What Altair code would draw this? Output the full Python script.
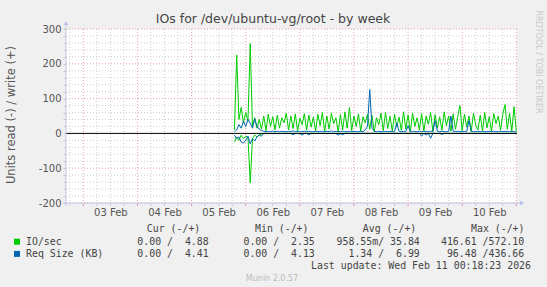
import altair as alt
import pandas as pd

# ---------------- texts ----------------
TITLE = "IOs for /dev/ubuntu-vg/root - by week"
Y_TITLE = "Units read (-) / write (+)"
SIDE_TEXT = "RRDTOOL / TOBI OETIKER"
FOOTER = "Munin 2.0.57"
LAST_UPDATE = "Last update: Wed Feb 11 00:18:23 2026"

DAY_LABELS = ["03 Feb", "04 Feb", "05 Feb", "06 Feb", "07 Feb", "08 Feb", "09 Feb", "10 Feb"]
DAY_LABEL_HOURS = [36, 60, 84, 108, 132, 156, 180, 204]  # noon of each day, hours since 02 Feb 00:00
Y_LABELS = [-200, -100, 0, 100, 200, 300]

X_START = 16.306   # 02 Feb 16:18:23
X_END = 216.306    # 11 Feb 00:18:23
SERIES_START = 91  # 05 Feb 19:00, hourly samples

# ---------------- series (hourly) ----------------
IO_WRITE = [
    10, 225, 40, 75, 30, 60, 35, 258, 20, 45, 15, 40,
    12, 50, 8, 55, 20, 48, 10, 52, 15, 45, 30, 58,
    10, 50, 14, 56, 6, 44, 25, 57, 9, 53, 18, 47,
    7, 55, 22, 60, 5, 50, 12, 58, 28, 45, 4, 54,
    10, 62, 15, 74, 8, 50, 20, 56, 6, 48, 30, 55,
    12, 52, 5, 45, 25, 58, 8, 60, 14, 50, 6, 55,
    18, 47, 9, 62, 12, 53, 4, 58, 20, 45, 10, 57,
    7, 50, 26, 60, 5, 54, 15, 48, 9, 62, 22, 50,
    6, 56, 12, 47, 80, 8, 55, 18, 50, 5, 58, 24,
    10, 52, 7, 60, 16, 48, 6, 57, 28, 50, 9, 55,
    83, 12, 58, 6, 77, 5,
]
IO_READ = [
    25, 10, 20, 5, 15, 8, 10, 142, 15, 5, 10, 3,
    2, 0, 0, 1, 0, 0, 0, 0, 1, 0, 0, 0,
    0, 0, 0, 0, 0, 1, 0, 0, 0, 0, 0, 0,
    0, 0, 0, 0, 0, 0, 0, 0, 0, 0, 0, 0,
    0, 0, 0, 0, 0, 0, 0, 0, 0, 0, 0, 0,
    0, 0, 0, 0, 0, 0, 0, 0, 0, 0, 0, 0,
    0, 0, 0, 0, 0, 0, 0, 0, 0, 0, 0, 0,
    0, 0, 0, 0, 0, 0, 0, 0, 0, 0, 0, 0,
    0, 0, 0, 0, 0, 0, 0, 0, 0, 0, 0, 0,
    0, 0, 0, 0, 0, 0, 0, 0, 0, 0, 0, 0,
    0, 0, 0, 0, 0, 0,
]
REQ_WRITE = [
    5, 10, 25, 15, 35, 20, 40, 30, 15, 42, 20, 12,
    8, 6, 5, 6, 5, 7, 5, 6, 5, 6, 5, 5,
    6, 5, 7, 5, 6, 5, 5, 6, 5, 6, 5, 5,
    6, 5, 6, 5, 5, 6, 5, 7, 5, 6, 5, 5,
    6, 5, 5, 6, 5, 6, 5, 5, 6, 5, 10, 20,
    126, 15, 6, 5, 6, 5, 5, 6, 5, 6, 5, 5,
    30, 6, 5, 6, 5, 22, 5, 6, 5, 5, 6, 5,
    6, 5, 5, 6, 5, 37, 6, 5, 6, 5, 5, 6,
    50, 6, 5, 6, 5, 5, 6, 5, 37, 6, 5, 5,
    6, 5, 6, 5, 5, 6, 5, 6, 5, 5, 6, 5,
    6, 5, 6, 5, 5, 4,
]
REQ_READ = [
    5, 15, 10, 25, 28, 20, 8, 30, 15, 22, 10, 5,
    8, 0, 0, 0, 0, 0, 0, 0, 0, 0, 0, 0,
    0, 0, 4, 0, 0, 0, 5, 0, 0, 4, 0, 0,
    0, 0, 0, 0, 0, 0, 0, 0, 0, 0, 5, 0,
    4, 0, 0, 0, 0, 0, 0, 0, 0, 0, 0, 0,
    0, 0, 0, 0, 0, 0, 0, 0, 0, 0, 0, 0,
    0, 0, 0, 0, 0, 0, 0, 0, 0, 0, 0, 8,
    0, 5, 0, 14, 0, 0, 0, 0, 3, 0, 0, 0,
    0, 0, 0, 0, 0, 0, 0, 0, 0, 0, 0, 0,
    0, 0, 0, 0, 0, 0, 0, 0, 0, 0, 0, 0,
    0, 0, 0, 0, 0, 0,
]

# ---------------- legend ----------------
LEGEND_NAMES = ["IO/sec", "Req Size (KB)"]
LEGEND_COLORS = ["#00cc00", "#0066b3"]
LEGEND_HEADERS = ["Cur (-/+)", "Min (-/+)", "Avg (-/+)", "Max (-/+)"]
IO_STATS = ["0.00 /  4.88", "0.00 /  2.35", "958.55m/ 35.84", "416.61 /572.10"]
REQ_STATS = ["0.00 /  4.41", "0.00 /  4.13", "1.34 /  6.99", "96.48 /436.66"]

GREEN, BLUE = LEGEND_COLORS
W, H = 451, 174
SANS = "DejaVu Sans"
MONO = "DejaVu Sans Mono"
NBSP = "\u00a0"

rows = []
for name, vals, sign in [("io_r", IO_READ, -1), ("io_w", IO_WRITE, 1),
                         ("req_r", REQ_READ, -1), ("req_w", REQ_WRITE, 1)]:
    for i, v in enumerate(vals):
        rows.append({"h": SERIES_START + i, "v": sign * v, "s": name})
df = pd.DataFrame(rows)

xs = alt.Scale(domain=[X_START, X_END], nice=False, zero=False)
ys = alt.Scale(domain=[-200, 300], nice=False, zero=False)

label_arr = "[" + ",".join("'%s'" % s for s in DAY_LABELS) + "]"
x_axis = alt.Axis(values=DAY_LABEL_HOURS,
                  labelExpr=label_arr + "[round((datum.value-36)/24)]",
                  ticks=False, domain=False, grid=False, labelFont=SANS,
                  labelFontSize=10, labelColor="#555555", labelPadding=4,
                  title=None, labelOverlap=False, labelFlush=False)
y_axis = alt.Axis(values=list(range(-200, 301, 20)),
                  labelExpr="datum.value % 100 == 0 ? '' + datum.value : ''",
                  ticks=True, tickSize=3, tickColor="#c8c8c8", domain=False,
                  grid=False, labelFont=SANS, labelFontSize=10,
                  labelColor="#555555", labelPadding=2, title=None,
                  labelOverlap=False)
X = alt.X("h:Q", scale=xs, axis=x_axis)
Y = alt.Y("v:Q", scale=ys, axis=y_axis)

major_h = [v for v in range(-200, 301, 100) if v != 0]
minor_h = [v for v in range(-180, 300, 20) if v % 100 != 0]
major_v = list(range(24, 217, 24))
minor_v = [v for v in range(18, 216, 6) if v % 24 != 0]

def hrules(vals, color):
    return alt.Chart(pd.DataFrame({"v": vals})).mark_rule(
        color=color, strokeDash=[1, 2], strokeWidth=1).encode(
        y=Y, x=alt.value(0), x2=alt.value(W))

def vrules(vals, color):
    return alt.Chart(pd.DataFrame({"h": vals})).mark_rule(
        color=color, strokeDash=[1, 2], strokeWidth=1).encode(
        x=X, y=alt.value(0), y2=alt.value(H))

def vticks(vals, color):
    return alt.Chart(pd.DataFrame({"h": vals})).mark_rule(
        color=color, strokeWidth=1).encode(
        x=X, y=alt.value(H), y2=alt.value(H + 3))

GRID_MINOR = "#cfcfcf"
GRID_MAJOR = "#e8a0a0"

layers = [
    hrules(minor_h, GRID_MINOR),
    vrules(minor_v, GRID_MINOR),
    hrules(major_h, GRID_MAJOR),
    vrules(major_v, GRID_MAJOR),
    vticks(minor_v, "#cccccc"),
    vticks(major_v, "#e59a9a"),
]

lines_green = alt.Chart(df).transform_filter(
    alt.FieldOneOfPredicate(field="s", oneOf=["io_r", "io_w"])
).mark_line(color=GREEN, strokeWidth=1).encode(x=X, y=Y, detail="s:N")
lines_blue = alt.Chart(df).transform_filter(
    alt.FieldOneOfPredicate(field="s", oneOf=["req_r", "req_w"])
).mark_line(color=BLUE, strokeWidth=1).encode(x=X, y=Y, detail="s:N")
layers += [lines_green, lines_blue]

zero = alt.Chart(pd.DataFrame({"v": [0]})).mark_rule(color="#000000", strokeWidth=1).encode(
    y=Y, x=alt.value(0), x2=alt.value(W))
layers.append(zero)

DUMMY = pd.DataFrame({"a": [0]})
AXIS_COL = "#c4c8e6"
layers.append(alt.Chart(DUMMY).mark_rule(color=AXIS_COL, strokeWidth=1).encode(
    x=alt.value(0), y=alt.value(-5), y2=alt.value(H + 3)))
layers.append(alt.Chart(DUMMY).mark_rule(color=AXIS_COL, strokeWidth=1).encode(
    x=alt.value(-3), x2=alt.value(W + 3), y=alt.value(H)))
layers.append(alt.Chart(DUMMY).mark_point(shape="triangle-up", filled=True, size=22,
                                          color="#b8c0ea", opacity=1).encode(
    x=alt.value(0), y=alt.value(-6)))
layers.append(alt.Chart(DUMMY).mark_point(shape="triangle-right", filled=True, size=22,
                                          color="#b8c0ea", opacity=1).encode(
    x=alt.value(W + 5), y=alt.value(H)))


def txt(text, x, y, size, color, font, align="left", angle=0):
    props = dict(align=align, baseline="middle", font=font, fontSize=size, color=color)
    if angle:
        props["angle"] = angle
    if font == MONO:
        text = text.replace(" ", NBSP)
    return alt.Chart(DUMMY).mark_text(**props).encode(
        x=alt.value(x), y=alt.value(y), text=alt.value(text))

layers.append(txt(TITLE, 207, -10, 12.5, "#444444", SANS, "center"))
layers.append(txt(Y_TITLE, -54, 86, 11.5, "#555555", SANS, "center", 270))
layers.append(txt(SIDE_TEXT, 472, 33, 8, "#c8c8c8", SANS, "center", 90))

# legend
header_x = [80.8, 189, 296.8, 405]
for hx, htxt in zip(header_x, LEGEND_HEADERS):
    layers.append(txt(htxt, hx, 200, 9.9, "#444444", MONO, "left"))

value_right = [142.7, 248.8, 353.8, 458.2]
row_y = [212.7, 224.9]
for ry, name, col, stats in zip(row_y, LEGEND_NAMES, LEGEND_COLORS, [IO_STATS, REQ_STATS]):
    layers.append(alt.Chart(DUMMY).mark_rect(color=col).encode(
        x=alt.value(-52), x2=alt.value(-46), y=alt.value(ry - 3), y2=alt.value(ry + 3)))
    layers.append(txt(name, -40, ry, 9.9, "#444444", MONO, "left"))
    for vx, s in zip(value_right, stats):
        layers.append(txt(s, vx, ry, 9.9, "#444444", MONO, "right"))

layers.append(txt(LAST_UPDATE, 465, 237.1, 9.9, "#444444", MONO, "right"))
layers.append(txt(FOOTER, 206, 250.3, 8, "#bbbbbb", SANS, "center"))

chart = alt.layer(*layers).properties(
    width=W, height=H,
    padding={"left": 66, "top": 29, "right": 30, "bottom": 84},
    autosize=alt.AutoSizeParams(type="none"),
    background="#f0f0f0",
).configure_view(fill="white", stroke=None)

chart.save("out.html", embed_options={"renderer": "svg", "actions": False})
